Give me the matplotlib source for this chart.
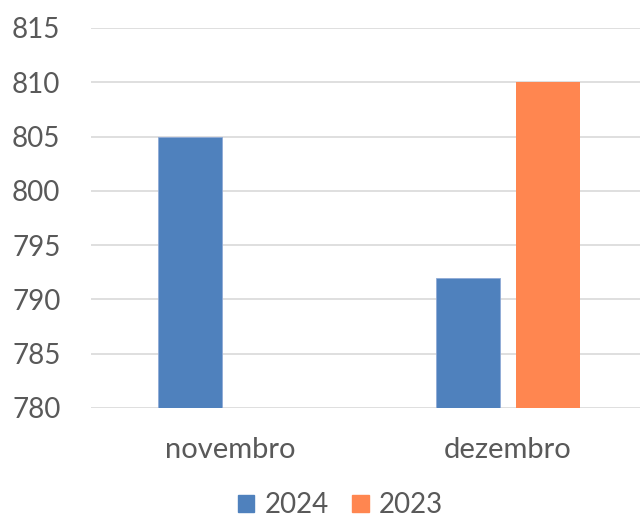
import numpy as np
import matplotlib.pyplot as plt
from matplotlib.patches import Patch

# data
meses = ['novembro', 'dezembro']
serie_2024 = [805, 792]
serie_2023 = [np.nan, 810]
anos = ['2024', '2023']
cores = ['#4F81BD', '#FF8650']
yticks = [780, 785, 790, 795, 800, 805, 810, 815]

plt.rcParams['font.family'] = ['Lato', 'DejaVu Sans']
cinza = '#595959'

fig = plt.figure(figsize=(6.4, 5.22), dpi=100)
ax = fig.add_axes([91 / 640, 1 - 408 / 522, 556 / 640, 380 / 522])

x = np.arange(len(meses))
w = 0.227
off = 0.144
ax.bar(x - off, serie_2024, w, color=cores[0], edgecolor='#8FAAD6', linewidth=0.6, zorder=3)
ax.bar(x + off, serie_2023, w, color=cores[1], zorder=3)

ax.set_xlim(-0.5, 1.5)
ax.set_ylim(780, 815)
ax.set_yticks(yticks)
ax.set_xticks(x)
ax.set_xticklabels(meses)
ax.grid(axis='y', color='#D9D9D9', linewidth=1.2, zorder=0)
for s in ax.spines.values():
    s.set_visible(False)
ax.tick_params(axis='y', length=0, pad=22, labelsize=20, labelcolor=cinza)
ax.tick_params(axis='x', length=0, pad=21, labelsize=21, labelcolor=cinza)

handles = [Patch(color=c) for c in cores]
fig.legend(handles, anos, loc='center', bbox_to_anchor=(0.532, 0.032), ncol=2,
           frameon=False, fontsize=20, labelcolor=cinza, handlelength=0.58,
           handleheight=0.6, handletextpad=0.36, columnspacing=0.86,
           borderpad=0.1)

fig.savefig('out.png', dpi=100)
